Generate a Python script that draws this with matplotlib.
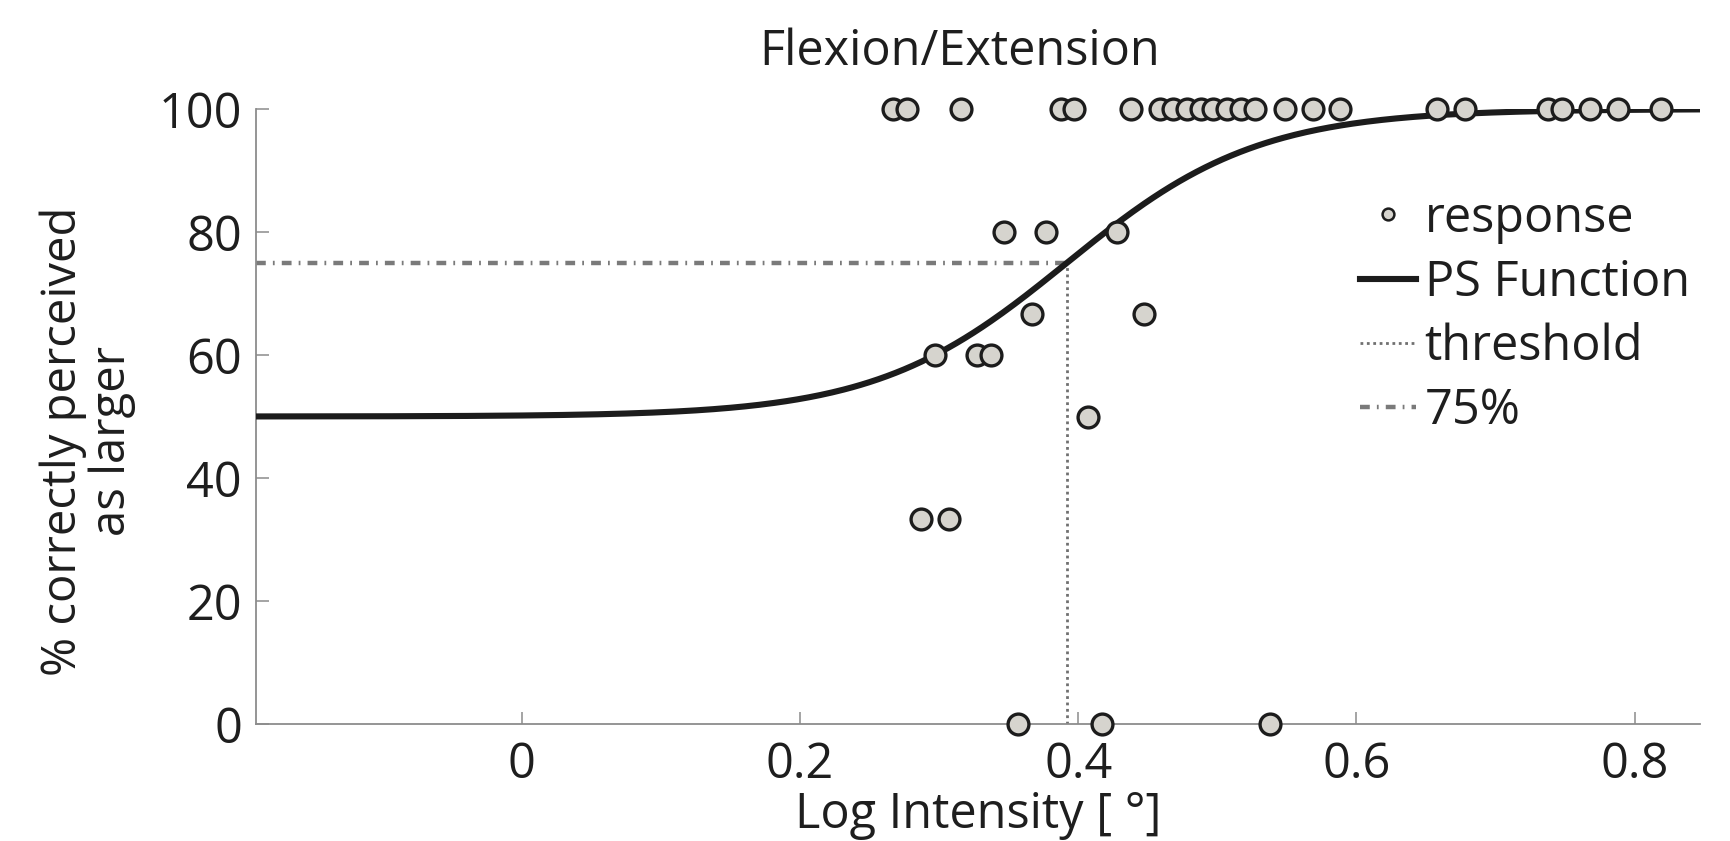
import numpy as np
import matplotlib
matplotlib.use("Agg")
import matplotlib.pyplot as plt
from matplotlib.lines import Line2D

plt.rcParams['font.family'] = ['Open Sans', 'DejaVu Sans']

# Responses: log intensity and % correct
resp_x = [0.267, 0.277, 0.316, 0.388, 0.397, 0.438, 0.459, 0.468, 0.478, 0.488,
          0.497, 0.507, 0.517, 0.527, 0.549, 0.569, 0.588, 0.658, 0.678, 0.738,
          0.748, 0.768, 0.788, 0.819,
          0.347, 0.377, 0.428,
          0.367, 0.447,
          0.297, 0.327, 0.337,
          0.407,
          0.287, 0.307,
          0.357, 0.417, 0.538]
resp_y = [100] * 24 + [80, 80, 80, 66.67, 66.67, 60, 60, 60, 50, 33.33, 33.33, 0, 0, 0]

# Fitted psychometric function (logistic, 50% guess rate)
threshold = 0.392
slope = 0.0685
guess = 50
level = 75

x_min, x_max = -0.191, 0.847
xticks = [0, 0.2, 0.4, 0.6, 0.8]
yticks = [0, 20, 40, 60, 80, 100]

dashdot = (0, (2.2, 1.6, 0.4, 1.6))
dotted = (0, (1, 1.3))

fig = plt.figure(figsize=(17.31, 8.41), dpi=100)
ax = fig.add_axes([256 / 1731, 1 - 724 / 841, 1444 / 1731, 615 / 841])

xs = np.linspace(x_min, x_max, 500)
ps = guess + (100 - guess) / (1 + np.exp(-(xs - threshold) / slope))

ax.plot([x_min, threshold], [level, level], color='#7a7a7a', lw=3.2, ls=dashdot, zorder=2)
ax.plot([threshold, threshold], [0, level], color='#707070', lw=2.0, ls=dotted, zorder=2)
ax.plot(xs, ps, color='#1c1c1c', lw=4.4, zorder=3, solid_capstyle='butt')
ax.plot(resp_x, resp_y, ls='none', marker='o', ms=15, mfc='#d6d4ce',
        mec='#1c1c1c', mew=2.4, clip_on=False, zorder=4)

ax.set_xlim(x_min, x_max)
ax.set_ylim(0, 100)
ax.set_xticks(xticks)
ax.set_xticklabels(['0', '0.2', '0.4', '0.6', '0.8'])
ax.set_yticks(yticks)

for side in ['top', 'right']:
    ax.spines[side].set_visible(False)
for side in ['left', 'bottom']:
    ax.spines[side].set_color('#8c8c8c')
    ax.spines[side].set_linewidth(1.3)

ax.tick_params(axis='both', direction='in', length=9, width=1.1, color='#8c8c8c',
               labelsize=35, labelcolor='#1e1e1e')
ax.tick_params(axis='x', pad=12)
ax.tick_params(axis='y', pad=10)

ax.set_xlabel('Log Intensity [ °]', fontsize=35, color='#1e1e1e', labelpad=0)
ax.set_ylabel('% correctly perceived\nas larger', fontsize=34, color='#1e1e1e',
              linespacing=1.05)
ax.yaxis.set_label_coords(-0.083, 0.46)
fig.text(960 / 1731, 1 - 65 / 841, 'Flexion/Extension', fontsize=35,
         color='#1e1e1e', ha='center', va='baseline')

handles = [
    Line2D([], [], ls='none', marker='o', ms=8.5, mfc='#d6d4ce', mec='#1c1c1c', mew=1.8),
    Line2D([], [], color='#1c1c1c', lw=4.4),
    Line2D([], [], color='#707070', lw=2.0, ls=dotted),
    Line2D([], [], color='#7a7a7a', lw=3.2, ls=dashdot),
]
labels = ['response', 'PS Function', 'threshold', '75%']
leg = ax.legend(handles, labels, loc='upper left', frameon=False, fontsize=35,
                bbox_to_anchor=(1360 / 1731, 1 - 194 / 841),
                bbox_transform=fig.transFigure, handlelength=1.15,
                handletextpad=0.18, labelspacing=0.3, borderpad=0, borderaxespad=0)
for t in leg.get_texts():
    t.set_color('#1e1e1e')

fig.savefig('out.png', dpi=100)
